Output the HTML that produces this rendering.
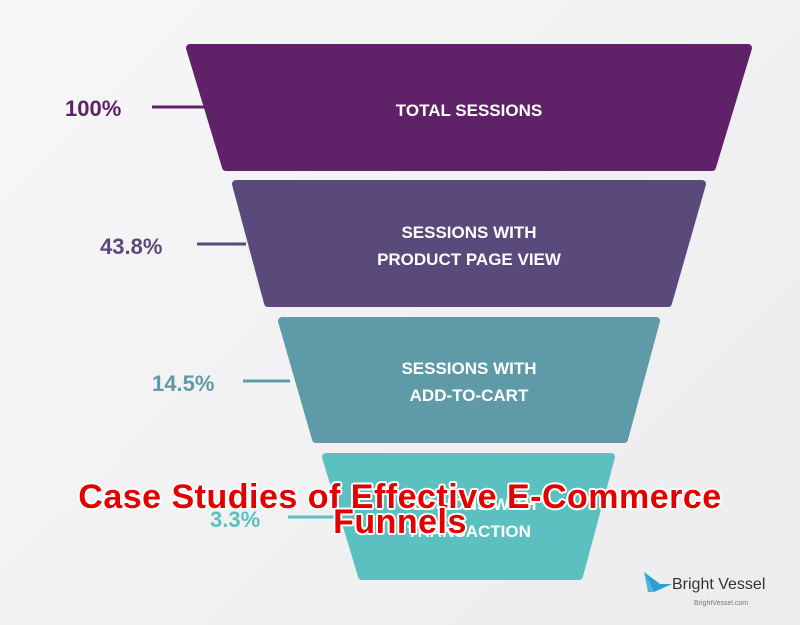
<!DOCTYPE html>
<html><head><style>
body{margin:0;width:800px;height:625px;overflow:hidden;background:linear-gradient(135deg,#f7f7f8,#ececee);font-family:"Liberation Sans",sans-serif;position:relative}
.t{position:absolute;left:0;width:800px;text-align:center;font-weight:bold;font-size:34px;color:#e50000;text-shadow:2px 0 #fff,-2px 0 #fff,0 2px #fff,0 -2px #fff,1.5px 1.5px #fff,-1.5px -1.5px #fff,1.5px -1.5px #fff,-1.5px 1.5px #fff;letter-spacing:0.5px}
</style></head><body>
<svg width="800" height="625" style="position:absolute;left:0;top:0" font-family="Liberation Sans, sans-serif" font-weight="bold">
<polygon points="190,48 748,48 712,167 226,167" fill="#5f2167" stroke="#5f2167" stroke-width="8" stroke-linejoin="round"/>
<polygon points="236,184 702,184 668,303 268,303" fill="#5a4a7c" stroke="#5a4a7c" stroke-width="8" stroke-linejoin="round"/>
<polygon points="282,321 656,321 624,439 316,439" fill="#5e9aa8" stroke="#5e9aa8" stroke-width="8" stroke-linejoin="round"/>
<polygon points="326,457 611,457 579,576 362,576" fill="#5bc0bf" stroke="#5bc0bf" stroke-width="8" stroke-linejoin="round"/>
<g fill="#fff" font-size="17" text-anchor="middle">
<text x="469" y="116">TOTAL SESSIONS</text>
<text x="469" y="238">SESSIONS WITH</text><text x="469" y="265">PRODUCT PAGE VIEW</text>
<text x="469" y="374">SESSIONS WITH</text><text x="469" y="401">ADD-TO-CART</text>
<text x="469" y="510">SESSIONS WITH</text><text x="469" y="537">TRANSACTION</text>
</g>
<g font-size="22">
<text x="65" y="116" fill="#5f2167">100%</text>
<text x="100" y="254" fill="#5a4a7c">43.8%</text>
<text x="152" y="391" fill="#5e9aa8">14.5%</text>
<text x="210" y="527" fill="#5bc0bf">3.3%</text>
</g>
<g stroke-width="3">
<line x1="152" y1="107" x2="206" y2="107" stroke="#5f2167"/>
<line x1="197" y1="244" x2="246" y2="244" stroke="#5a4a7c"/>
<line x1="243" y1="381" x2="290" y2="381" stroke="#5e9aa8"/>
<line x1="288" y1="517" x2="336" y2="517" stroke="#5bc0bf"/>
</g>
<polygon points="644,572 660,584 672,584 654,592" fill="#2a9fd6"/>
<polygon points="644,572 654,592 648,592" fill="#4ab8e0"/>
<text x="672" y="589" font-size="16" font-weight="normal" fill="#333">Bright Vessel</text>
<text x="694" y="605" font-size="7" font-weight="normal" fill="#777">BrightVessel.com</text>
</svg>
<div class="t" style="top:478px">Case Studies of Effective E-Commerce</div>
<div class="t" style="top:503px">Funnels</div>
</body></html>
